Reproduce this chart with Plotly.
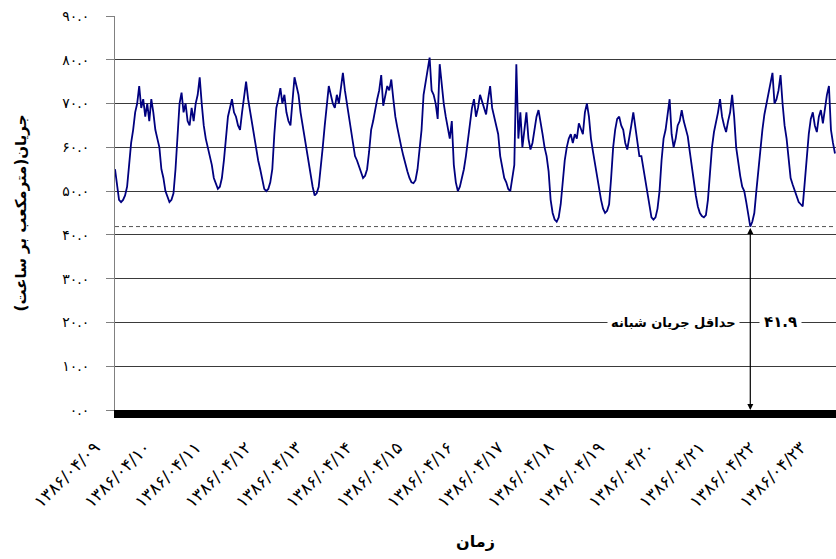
import plotly.graph_objects as go

# Hourly night-flow readings (m3/h), one list per day
d09 = [55, 51, 48, 47.5, 48, 49, 51, 56, 61, 64, 68, 70, 74, 69, 71, 67, 70, 66, 71, 68, 64, 62, 60, 55]
d10 = [53, 50, 48.5, 47.5, 48, 49.5, 55, 64, 70, 72.5, 68, 70, 66, 65, 69, 66, 70, 72, 76, 70, 65, 62, 60, 58]
d11 = [56, 53, 51.5, 50.5, 51, 53, 57, 63, 67, 69, 71, 68, 67, 65, 64, 68, 72, 75, 71, 68, 65, 62, 59, 57]
d12 = [55, 52.5, 50.5, 50, 50.5, 52, 55, 63, 69, 71, 73.5, 70, 72, 68, 66, 65, 71, 76, 74, 72, 68, 65, 62, 60]
d13 = [57, 54, 51, 49, 49.5, 51, 55, 60, 65, 69, 74, 72, 70, 69, 72, 70, 74, 77, 73, 70, 67, 64, 61, 58]
d14 = [57, 55.5, 54, 53, 53.5, 55, 59, 64, 66, 69, 71, 73, 76.5, 69.5, 72, 74, 73, 75.5, 71, 67, 64.5, 62, 60, 58]
d15 = [56, 54.5, 53, 52, 51.8, 52.5, 55, 59, 64, 72, 75, 78, 80.5, 73, 72, 70, 66.5, 79, 74, 70, 67, 64, 62, 66]
d16 = [56, 52, 50, 51, 53, 55, 58, 62, 65.5, 69, 71, 67, 69, 72, 70.5, 69, 67.5, 71, 74, 69, 67, 65, 63, 58]
d17 = [55, 53, 52, 50.5, 50, 53, 56, 79, 62, 68, 60, 64, 68, 62, 59.5, 61, 64, 67, 68.5, 66, 63, 60, 58, 54.5]
d18 = [48, 45, 43.5, 43, 44, 47, 52, 57, 60, 62, 63, 61, 63, 62, 65.5, 64, 63, 68, 70, 67, 62, 59, 56, 54]
d19 = [51, 48, 46, 45, 45.5, 47, 53, 60, 64, 66.5, 67, 65, 64, 61, 59.5, 62, 65, 68, 65, 61, 58, 58, 55, 52]
d20 = [49, 46.5, 44, 43.5, 44, 46, 50, 57, 62, 64, 67, 71, 63, 60, 62, 65, 66, 68.5, 66, 64, 62.5, 59, 55.5, 52]
d21 = [49, 46.5, 45, 44.3, 44, 44.5, 48, 54, 60, 63.5, 65.5, 68, 71, 67, 65, 63.5, 66, 68, 72, 67, 60, 56.5, 53.5, 51]
d22 = [50, 47.5, 44.5, 41.9, 43, 45, 50, 55, 60, 64, 67.5, 70, 72.5, 75, 77, 70, 71, 73, 76.5, 70, 65, 62, 57, 53]
d23 = [51.5, 50, 48.5, 47.5, 47, 46.5, 52, 58, 63, 66.5, 68, 65, 63.5, 67, 68.5, 65.5, 69, 72, 74, 64, 61, 58.6]

flow = d09 + d10 + d11 + d12 + d13 + d14 + d15 + d16 + d17 + d18 + d19 + d20 + d21 + d22 + d23
hours = list(range(len(flow)))

date_labels = ["۱۳۸۶/۰۴/۰۹", "۱۳۸۶/۰۴/۱۰", "۱۳۸۶/۰۴/۱۱", "۱۳۸۶/۰۴/۱۲", "۱۳۸۶/۰۴/۱۳",
               "۱۳۸۶/۰۴/۱۴", "۱۳۸۶/۰۴/۱۵", "۱۳۸۶/۰۴/۱۶", "۱۳۸۶/۰۴/۱۷", "۱۳۸۶/۰۴/۱۸",
               "۱۳۸۶/۰۴/۱۹", "۱۳۸۶/۰۴/۲۰", "۱۳۸۶/۰۴/۲۱", "۱۳۸۶/۰۴/۲۲", "۱۳۸۶/۰۴/۲۳"]
label_step = 25  # hours between date labels
y_ticks = [0, 10, 20, 30, 40, 50, 60, 70, 80, 90]

FA = str.maketrans("0123456789", "۰۱۲۳۴۵۶۷۸۹")
def fa(s):
    return s.translate(FA)

y_tick_labels = [fa(f"{v:.1f}") for v in y_ticks]
tick_positions = [label_step * i for i in range(len(date_labels))]

min_flow = min(flow)
min_hour = flow.index(min_flow)

FONT = "DejaVu Sans"

fig = go.Figure()
fig.add_trace(go.Scatter(x=hours, y=flow, mode="lines",
                         line=dict(color="#00007f", width=1.8),
                         hoverinfo="skip", showlegend=False))

fig.add_shape(type="line", xref="paper", x0=0, x1=1, yref="y", y0=min_flow, y1=min_flow,
              line=dict(color="#555555", width=1, dash="4px,3px"), layer="below")

# double-headed arrow from the minimum down to the axis
fig.add_annotation(x=min_hour, y=0, ax=min_hour, ay=min_flow, xref="x", yref="y",
                   axref="x", ayref="y", text="", showarrow=True, arrowhead=2,
                   startarrowhead=2, arrowside="end+start", arrowsize=1, arrowwidth=1.2,
                   arrowcolor="black")

fig.add_annotation(x=277, y=20, xref="x", yref="y", text="<b>حداقل جریان شبانه</b>",
                   showarrow=False, bgcolor="white", borderpad=3,
                   font=dict(family=FONT, size=13, color="black"))
fig.add_annotation(x=330, y=20, xref="x", yref="y", text="<b>" + fa(f"{min_flow:.1f}") + "</b>",
                   showarrow=False, bgcolor="white", borderpad=4,
                   font=dict(family=FONT, size=15, color="black"))

fig.update_layout(
    width=836, height=559,
    margin=dict(l=115, r=0, t=16, b=149),
    paper_bgcolor="white", plot_bgcolor="white",
    font=dict(family=FONT, color="black"),
    xaxis=dict(range=[0, 357.5], tickmode="array", tickvals=tick_positions,
               ticktext=date_labels, tickangle=-45, ticks="", automargin=False,
               tickfont=dict(family=FONT, size=17), ticklabelstandoff=13, ticklabelshift=-20,
               showgrid=False, zeroline=False, showline=True, linecolor="black", linewidth=8,
               title=dict(text="<b>زمان</b>", font=dict(family=FONT, size=16), standoff=28)),
    yaxis=dict(range=[0, 90], tickmode="array", tickvals=y_ticks, ticktext=y_tick_labels,
               ticks="outside", ticklen=8, tickcolor="#808080", tickwidth=1, automargin=False,
               tickfont=dict(family=FONT, size=14), ticklabelstandoff=14,
               showgrid=True, gridcolor="#3a3a3a", gridwidth=1, zeroline=False,
               showline=True, linecolor="#808080", linewidth=1,
               title=dict(text="<b>\u200fجریان(مترمکعب بر ساعت)\u200f</b>",
                          font=dict(family=FONT, size=15), standoff=31)),
)

fig.write_html("out.html", config={"displayModeBar": False},
               post_script="document.body.style.margin='0';document.body.style.overflow='hidden';")
